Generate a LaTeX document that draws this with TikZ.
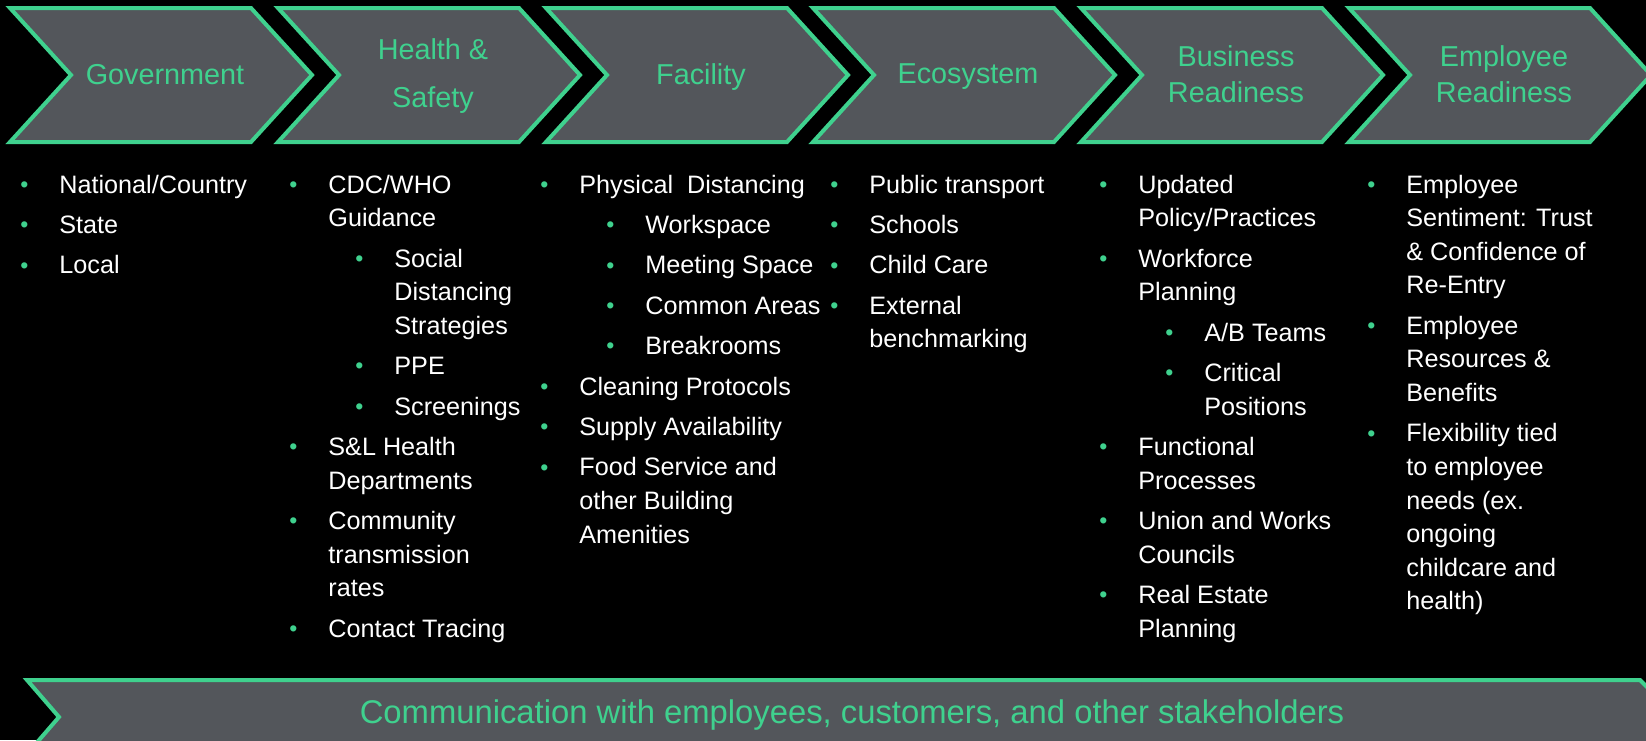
\documentclass[tikz,border=0pt]{standalone}
\usepackage{fontspec}
\setmainfont{Liberation Sans}
\usepackage{array}
\definecolor{accent}{HTML}{3FD18E}
\definecolor{panel}{HTML}{53565B}
\newcommand{\bul}{\textcolor{accent}{\raisebox{0.4pt}{\fontsize{11.5}{11.5}\selectfont\textbullet}}}
\newcommand{\itm}[1]{\bul & \multicolumn{3}{@{}l@{}}{#1}}
\newcommand{\cont}[1]{& \multicolumn{3}{@{}l@{}}{#1}}
\newcommand{\sitm}[1]{& & \bul & #1}
\newcommand{\scont}[1]{& & & #1}
\newenvironment{blist}{\begin{tabular}[t]{@{}p{19.5pt}@{}p{13.5pt}@{}p{19.5pt}@{}l@{}}}{\end{tabular}}
\newcommand{\gap}{\\[3.4pt]}

\begin{document}
\begin{tikzpicture}[x=0.5pt, y=-0.5pt,
    chev/.style={fill=panel, draw=accent, line width=2pt},
    head/.style={text=accent, font=\fontsize{14.4}{18}\selectfont, align=center, inner sep=0pt, text depth=0pt},
    list/.style={text=white, font=\fontsize{12.6}{16.8}\selectfont, anchor=base west, inner sep=0pt}]
  \fill[black] (0,0) rectangle (1646,740);
  \useasboundingbox (0,0) rectangle (1646,740);
  \clip (0,0) rectangle (1646,740);

  % top chevrons
  \draw[chev] (10,8) -- ++(241,0) -- ++(61,67) -- ++(-61,67) -- ++(-241,0) -- ++(61,-67) -- cycle;
  \draw[chev] (278,8) -- ++(241,0) -- ++(61,67) -- ++(-61,67) -- ++(-241,0) -- ++(61,-67) -- cycle;
  \draw[chev] (546,8) -- ++(241,0) -- ++(61,67) -- ++(-61,67) -- ++(-241,0) -- ++(61,-67) -- cycle;
  \draw[chev] (813,8) -- ++(241,0) -- ++(61,67) -- ++(-61,67) -- ++(-241,0) -- ++(61,-67) -- cycle;
  \draw[chev] (1081,8) -- ++(241,0) -- ++(61,67) -- ++(-61,67) -- ++(-241,0) -- ++(61,-67) -- cycle;
  \draw[chev] (1349,8) -- ++(241,0) -- ++(61,67) -- ++(-61,67) -- ++(-241,0) -- ++(61,-67) -- cycle;

  \node[head] (gov) at (165,74) {Government};
  \node[head, font=\fontsize{14.4}{24}\selectfont] (hs) at (433,73) {Health \&\\Safety};
  \node[head] (fac) at (701,74) {Facility};
  \node[head] (eco) at (968,74) {Ecosystem};
  \node[head] (bus) at (1236,74) {Business\\Readiness};
  \node[head] (emp) at (1504,74) {Employee\\Readiness};

  % bullet columns
  \node[list] (govlist) at (20,193) {\begin{blist}
    \itm{National/Country}\gap
    \itm{State}\gap
    \itm{Local}
  \end{blist}};
  \node[list] (hslist) at (289,193) {\begin{blist}
    \itm{CDC/WHO}\\
    \cont{Guidance}\gap
    \sitm{Social}\\
    \scont{Distancing}\\
    \scont{Strategies}\gap
    \sitm{PPE}\gap
    \sitm{Screenings}\gap
    \itm{S\&L Health}\\
    \cont{Departments}\gap
    \itm{Community}\\
    \cont{transmission}\\
    \cont{rates}\gap
    \itm{Contact Tracing}
  \end{blist}};
  \node[list] (faclist) at (540,193) {\begin{blist}
    \itm{Physical\ \ Distancing}\gap
    \sitm{Workspace}\gap
    \sitm{Meeting Space}\gap
    \sitm{Common Areas}\gap
    \sitm{Breakrooms}\gap
    \itm{Cleaning Protocols}\gap
    \itm{Supply Availability}\gap
    \itm{Food Service and}\\
    \cont{other Building}\\
    \cont{Amenities}
  \end{blist}};
  \node[list] (ecolist) at (830,193) {\begin{blist}
    \itm{Public transport}\gap
    \itm{Schools}\gap
    \itm{Child Care}\gap
    \itm{External}\\
    \cont{benchmarking}
  \end{blist}};
  \node[list] (buslist) at (1099,193) {\begin{blist}
    \itm{Updated}\\
    \cont{Policy/Practices}\gap
    \itm{Workforce}\\
    \cont{Planning}\gap
    \sitm{A/B Teams}\gap
    \sitm{Critical}\\
    \scont{Positions}\gap
    \itm{Functional}\\
    \cont{Processes}\gap
    \itm{Union and Works}\\
    \cont{Councils}\gap
    \itm{Real Estate}\\
    \cont{Planning}
  \end{blist}};
  \node[list] (emplist) at (1367,193) {\begin{blist}
    \itm{Employee}\\
    \cont{Sentiment: Trust}\\
    \cont{\& Confidence of}\\
    \cont{Re-Entry}\gap
    \itm{Employee}\\
    \cont{Resources \&}\\
    \cont{Benefits}\gap
    \itm{Flexibility tied}\\
    \cont{to employee}\\
    \cont{needs (ex.}\\
    \cont{ongoing}\\
    \cont{childcare and}\\
    \cont{health)}
  \end{blist}};

  % bottom bar
  \draw[chev] (27,680) -- (1640,680) -- (1677,717) -- (1640,754) -- (27,754) -- (59,717) -- cycle;
  \node[head, font=\fontsize{16.4}{20}\selectfont] (comm) at (852,712) {Communication with employees, customers, and other stakeholders};
\end{tikzpicture}
\end{document}
